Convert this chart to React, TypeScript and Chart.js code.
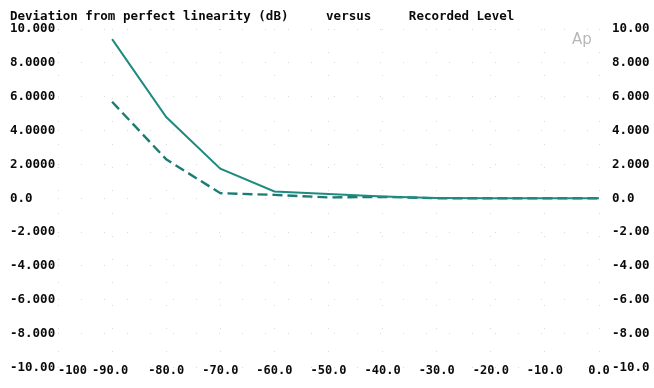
import React, { useEffect, useRef } from "react";
import { Chart, registerables } from "chart.js";

Chart.register(...registerables);

const titleText = "Deviation from perfect linearity (dB)     versus     Recorded Level";
const levels = [-90, -80, -70, -60, -50, -40, -30, -20, -10, 0];
const solidDeviation = [9.4, 4.8, 1.75, 0.4, 0.25, 0.1, 0.02, 0, 0, 0];
const dashedDeviation = [5.7, 2.3, 0.3, 0.2, 0.05, 0.08, 0, 0, 0, 0];
const yTickValues = [10, 8, 6, 4, 2, 0, -2, -4, -6, -8, -10];
const leftTickLabels = ["10.000", "8.0000", "6.0000", "4.0000", "2.0000", "0.0", "-2.000", "-4.000", "-6.000", "-8.000", "-10.00"];
const rightTickLabels = ["10.00", "8.000", "6.000", "4.000", "2.000", "0.0", "-2.00", "-4.00", "-6.00", "-8.00", "-10.0"];
const xTickValues = [-100, -90, -80, -70, -60, -50, -40, -30, -20, -10, 0];
const xTickLabels = ["-100", "-90.0", "-80.0", "-70.0", "-60.0", "-50.0", "-40.0", "-30.0", "-20.0", "-10.0", "0.0"];

const FONT_FAMILY = "'DejaVu Sans Mono', monospace";
const TEXT_COLOR = "#0a0a0a";
const LINE_COLOR = "#1f8a7f";
const DASH_COLOR = "#1b7d72";
const GRID_COLOR = "rgba(150,150,150,0.35)";

export default function App() {
  const canvasRef = useRef<HTMLCanvasElement | null>(null);

  useEffect(() => {
    const canvas = canvasRef.current;
    if (!canvas) return;

    const decorPlugin = {
      id: "decor",
      afterDraw(chart: any) {
        const ctx = chart.ctx;
        const area = chart.chartArea;
        const xs = chart.scales.x;
        ctx.save();
        ctx.font = `bold 12.5px ${FONT_FAMILY}`;
        ctx.fillStyle = TEXT_COLOR;
        ctx.textBaseline = "middle";
        ctx.textAlign = "left";
        ctx.fillText(titleText, 10, 17);
        ctx.font = `bold 12px ${FONT_FAMILY}`;
        xTickValues.forEach((v, i) => {
          const px = xs.getPixelForValue(v);
          let x = px;
          if (i === 0) {
            ctx.textAlign = "left";
            x = px;
          } else {
            ctx.textAlign = "center";
            if (i === 1) x = px - 2;
          }
          ctx.fillText(xTickLabels[i], x, area.bottom + 3);
        });
        ctx.font = `15px 'DejaVu Sans', sans-serif`;
        ctx.fillStyle = "#b8b8b8";
        ctx.textAlign = "left";
        ctx.fillText("Ap", 572, 40);
        ctx.restore();
      },
    };

    const chart = new Chart(canvas, {
      type: "line",
      data: {
        datasets: [
          {
            label: "solid",
            data: levels.map((x, i) => ({ x, y: solidDeviation[i] })),
            borderColor: LINE_COLOR,
            borderWidth: 2,
            pointRadius: 0,
            tension: 0,
            fill: false,
          },
          {
            label: "dashed",
            data: levels.map((x, i) => ({ x, y: dashedDeviation[i] })),
            borderColor: DASH_COLOR,
            borderWidth: 2.4,
            borderDash: [10, 5],
            pointRadius: 0,
            tension: 0,
            fill: false,
          },
        ],
      },
      plugins: [decorPlugin],
      options: {
        animation: false,
        responsive: false,
        maintainAspectRatio: false,
        layout: { padding: { top: 29, left: 10, right: 0, bottom: 0 } },
        plugins: {
          legend: { display: false },
          title: { display: false },
          tooltip: { enabled: false },
        },
        scales: {
          x: {
            type: "linear",
            min: -100,
            max: 0,
            afterBuildTicks: (scale: any) => {
              scale.ticks = xTickValues.map((v) => ({ value: v }));
            },
            ticks: { display: false },
            grid: { color: GRID_COLOR, tickLength: 0, drawTicks: false },
            border: { display: false, dash: [1, 22] },
            afterFit: (scale: any) => {
              scale.height = 8;
            },
          },
          y: {
            type: "linear",
            position: "left",
            min: -10,
            max: 10,
            afterBuildTicks: (scale: any) => {
              scale.ticks = yTickValues.map((v) => ({ value: v }));
            },
            ticks: {
              crossAlign: "far",
              padding: 0,
              color: TEXT_COLOR,
              font: { family: FONT_FAMILY, size: 12.5, weight: "bold" },
              callback: (value: any) => {
                const i = yTickValues.indexOf(Number(value));
                return i >= 0 ? leftTickLabels[i] : "";
              },
            },
            grid: { color: GRID_COLOR, drawTicks: false, tickLength: 0 },
            border: { display: false, dash: [1, 22] },
            afterFit: (scale: any) => {
              scale.width = 48;
            },
          },
          y2: {
            type: "linear",
            position: "right",
            min: -10,
            max: 10,
            afterBuildTicks: (scale: any) => {
              scale.ticks = yTickValues.map((v) => ({ value: v }));
            },
            ticks: {
              padding: 13,
              color: TEXT_COLOR,
              font: { family: FONT_FAMILY, size: 12.5, weight: "bold" },
              callback: (value: any) => {
                const i = yTickValues.indexOf(Number(value));
                return i >= 0 ? rightTickLabels[i] : "";
              },
            },
            grid: { drawOnChartArea: false, drawTicks: false, tickLength: 0 },
            border: { display: false },
            afterFit: (scale: any) => {
              scale.width = 55;
            },
          },
        },
      },
    } as any);

    return () => {
      chart.destroy();
    };
  }, []);

  return (
    <div style={{ position: "fixed", left: 0, top: 0, width: 654, height: 388, background: "#fff" }}>
      <canvas ref={canvasRef} width={654} height={388} style={{ display: "block", width: 654, height: 388 }} />
    </div>
  );
}
